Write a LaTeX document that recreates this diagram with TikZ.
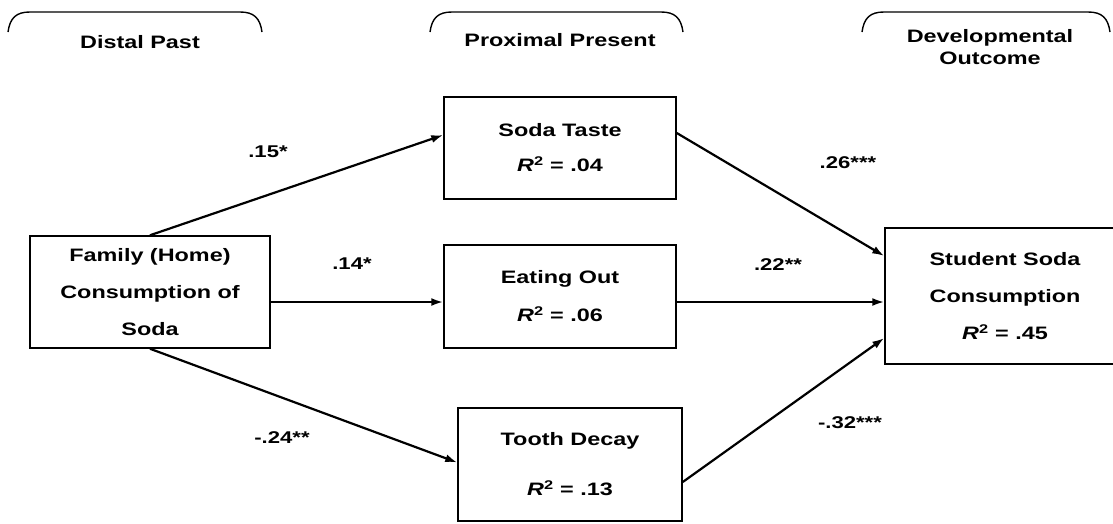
\documentclass[tikz,border=0pt]{standalone}
\usepackage{fontspec}
\setmainfont{Liberation Sans}[FakeStretch=1.3]
\usetikzlibrary{calc}
\usetikzlibrary{arrows.meta}

\tikzset{
  stage/.style={draw, line width=1.5pt, inner sep=0pt, align=center,
    font=\fontsize{18}{37}\selectfont\bfseries},
  coef/.style={inner sep=0pt, font=\fontsize{17}{20}\selectfont\bfseries},
  head/.style={inner sep=0pt, align=center, font=\fontsize{18}{22}\selectfont\bfseries},
  path/.style={line width=2.2pt, -{Latex[length=12pt,width=8pt]}}
}
\newcommand{\rsq}[1]{\textit{R}\textsuperscript{2} = #1}

\begin{document}
\begin{tikzpicture}[x=1pt,y=-1pt]
\clip (0,0) rectangle (1113,523);
% time headers
\foreach \l/\r in {8/262, 430/683, 862/1110}
  \draw[line width=1.4pt] (\l,32) .. controls (\l+2,18) and (\l+8,12) .. (\l+22,12)
    -- (\r-22,12) .. controls (\r-8,12) and (\r-2,18) .. (\r,32);
\node[head] (hpast) at (140,42) {Distal Past};
\node[head] (hpres) at (560,40) {Proximal Present};
\node[head] (hout) at (990,47) {Developmental\\Outcome};

% boxes
\node[stage, minimum width=240pt, minimum height=112pt] (fam) at (150,292) {Family (Home)\\Consumption of\\Soda};
\node[stage, minimum width=232pt, minimum height=102pt, font=\fontsize{18}{35}\selectfont\bfseries] (taste) at (560,148) {Soda Taste\\\rsq{.04}};
\node[stage, minimum width=232pt, minimum height=103pt, font=\fontsize{18}{38}\selectfont\bfseries] (eat) at (560,296.5) {Eating Out\\\rsq{.06}};
\node[stage, minimum width=224pt, minimum height=113pt, font=\fontsize{18}{50}\selectfont\bfseries] (decay) at (570,464.5) {Tooth Decay\\\rsq{.13}};
\node[stage, minimum width=240pt, minimum height=136pt] (stud) at (1005,296) {Student Soda\\Consumption\\\rsq{.45}};

% paths
\draw[path] (fam.north) -- ($(taste.west) + (0,-13)$);
\draw[path] ($(fam.east) + (0,10)$) -- ($(eat.west) + (0,5.5)$);
\draw[path] (fam.south) -- ($(decay.west) + (0,-2)$);
\draw[path] ($(taste.east) + (0,-15)$) -- ($(stud.west) + (0,-40)$);
\draw[path] ($(eat.east) + (0,5.5)$) -- ($(stud.west) + (0,6)$);
\draw[path] ($(decay.east) + (0,17.5)$) -- ($(stud.west) + (0,42)$);

% coefficients
\node[coef] (c1) at (268,152) {.15*};
\node[coef] (c2) at (352,264) {.14*};
\node[coef] (c3) at (282,438) {-.24**};
\node[coef] (c4) at (848,163) {.26***};
\node[coef] (c5) at (778,265) {.22**};
\node[coef] (c6) at (850,423) {-.32***};
\end{tikzpicture}
\end{document}
